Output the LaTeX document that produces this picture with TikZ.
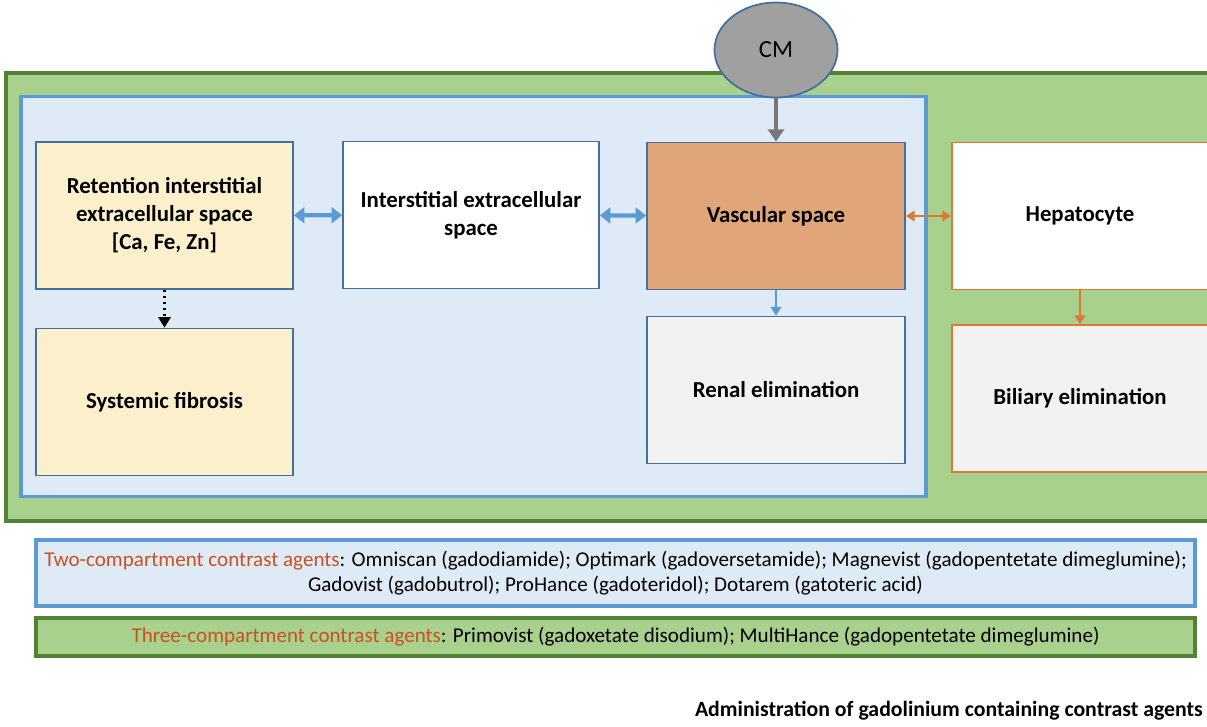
\documentclass[tikz,border=0pt]{standalone}
\usepackage{fontspec}
\setmainfont{Carlito}
\usepackage{xcolor}
\definecolor{gdgreen}{RGB}{169,209,142}
\definecolor{gddkgreen}{RGB}{84,130,53}
\definecolor{gdblue}{RGB}{91,155,213}
\definecolor{gdltblue}{RGB}{222,235,247}
\definecolor{gdslate}{RGB}{65,113,156}
\definecolor{gdcream}{RGB}{251,239,204}
\definecolor{gdvasc}{RGB}{224,166,122}
\definecolor{gdorange}{RGB}{224,120,50}
\definecolor{gdgrey}{RGB}{160,160,160}
\definecolor{gdlight}{RGB}{242,242,242}
\definecolor{gdred}{RGB}{205,80,30}
\usetikzlibrary{arrows.meta,positioning,shapes.geometric,calc}

\begin{document}
\begin{tikzpicture}[
  compbox/.style={draw=gdslate,line width=1pt,minimum width=5.14cm,minimum height=2.94cm,
    align=center,font=\fontsize{13}{16}\selectfont\bfseries,inner sep=3pt},
  livbox/.style={compbox,draw=gdorange},
  bluearr/.style={gdblue,line width=2.4pt,{Triangle[width=9pt,length=6pt]}-{Triangle[width=9pt,length=6pt]}},
  orngarr/.style={gdorange,line width=1.6pt,{Triangle[width=6pt,length=5pt]}-{Triangle[width=6pt,length=5pt]}}
]
  \useasboundingbox (0,0) rectangle (24.14,-14.52);
  \begin{scope}
    \clip (0,0) rectangle (24.14,-14.52);
    % body and liver compartments
    \draw[gddkgreen,fill=gdgreen,line width=2pt] (0.12,-1.46) rectangle (25,-10.42);
    \draw[gdblue,fill=gdltblue,line width=2pt] (0.42,-1.93) rectangle (18.52,-9.93);
    % Retention
    \node[compbox,fill=gdcream] (ret) at (3.29,-4.31) {Retention interstitial\\extracellular space\\{[Ca, Fe, Zn]}};
    \node[compbox,fill=gdcream] (fib) at (3.29,-8.04) {Systemic fibrosis};
    % extracellular / vascular
    \node[compbox,fill=white,minimum width=5.12cm] (ecs) at (9.42,-4.30) {Interstitial extracellular\\space};
    \node[compbox,fill=gdvasc,minimum width=5.16cm] (vas) at (15.52,-4.32) {Vascular space};
    \node[compbox,fill=gdlight,minimum width=5.16cm] (ren) at (15.52,-7.80) {Renal elimination};
    % Liver
    \node[livbox,fill=white,minimum width=5.12cm] (hep) at (21.6,-4.32) {Hepatocyte};
    \node[livbox,fill=gdlight,minimum width=5.12cm] (bil) at (21.6,-7.97) {Biliary elimination};
    % injection
    \node[ellipse,draw=gdslate,fill=gdgrey,line width=1pt,minimum width=2.46cm,minimum height=1.9cm,
      font=\fontsize{14}{16}\selectfont] (cm) at (15.52,-1.0) {CM};
  \end{scope}
  \draw[gdgrey!75!black,line width=2.4pt,-{Triangle[width=9pt,length=7pt]}] (cm) -- (vas);
  \draw[bluearr] (ret) -- (ecs);
  \draw[bluearr] (ecs) -- (vas);
  \draw[orngarr] (vas) -- (hep);
  \draw[gdblue,line width=1.6pt,-{Triangle[width=6pt,length=5pt]}] (vas) -- (ren);
  \draw[gdorange,line width=1.6pt,-{Triangle[width=6pt,length=5pt]}] (hep) -- (bil);
  \draw[black,line width=1.4pt,dotted,-{Triangle[width=7pt,length=6pt]}] (ret) -- (fib);
  % Key
  \node[draw=gdblue,fill=gdltblue,line width=2pt,minimum width=23.18cm,minimum height=1.32cm,
    align=center,font=\large,inner sep=2pt] (two) at (12.31,-11.46)
    {{\color{gdred}Two-compartment contrast agents}: Omniscan (gadodiamide); Optimark (gadoversetamide); Magnevist (gadopentetate dimeglumine);\\
     Gadovist (gadobutrol); ProHance (gadoteridol); Dotarem (gatoteric acid)};
  \node[draw=gddkgreen,fill=gdgreen,line width=2pt,minimum width=23.18cm,minimum height=0.76cm,
    font=\large,inner sep=2pt] (three) at (12.31,-12.74)
    {{\color{gdred}Three-compartment contrast agents}: Primovist (gadoxetate disodium); MultiHance (gadopentetate dimeglumine)};
  \node[anchor=east,font=\fontsize{12.4}{14}\selectfont\bfseries,inner sep=0pt] (cap) at (24.06,-14.22)
    {Administration of gadolinium containing contrast agents};
\end{tikzpicture}
\end{document}
